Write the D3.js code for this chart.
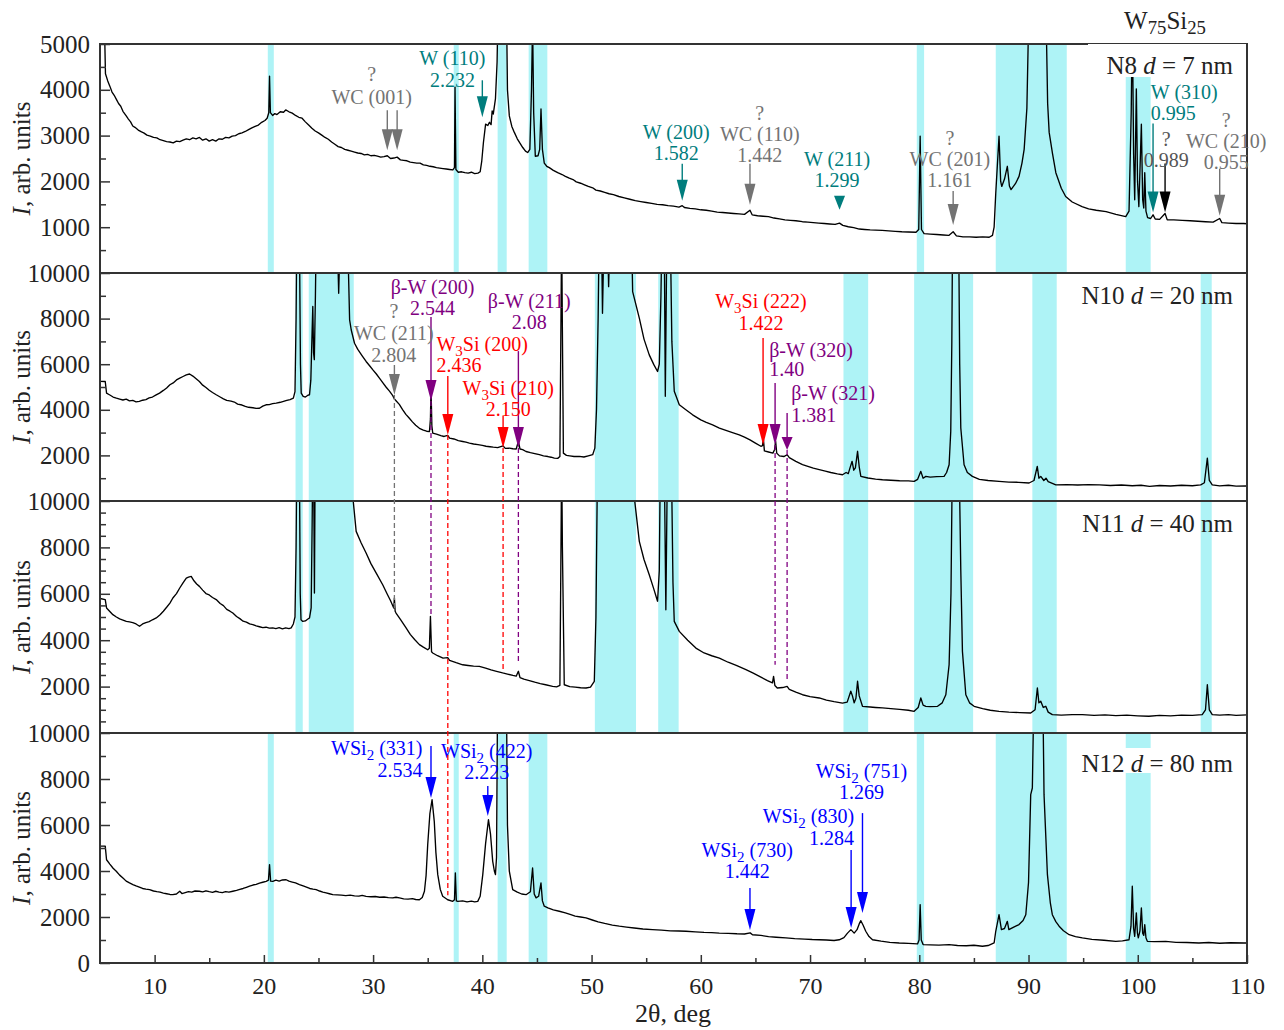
<!DOCTYPE html>
<html>
<head>
<meta charset="utf-8">
<script src="https://cdn.jsdelivr.net/npm/d3@7"></script>
<style>
body { margin: 0; background: #fff; }
svg { font-family: "Liberation Serif", "Times New Roman", serif; }
</style>
</head>
<body>
<svg id="chart" width="1284" height="1030"></svg>
<script>
// 2theta (deg), intensity (arb. units)
var n8 = [[5.0,6000],[5.4,5500],[5.5,4350],[5.7,4200],[5.9,4080],[6.1,3950],[6.3,3880],[6.5,3790],[6.7,3700],[6.9,3640],[7.1,3530],[7.4,3430],[7.6,3360],[7.8,3300],[8.0,3210],[8.2,3180],[8.5,3120],[8.8,3080],[9.0,3060],[9.3,3010],[9.6,2990],[9.9,2960],[10.2,2950],[10.5,2910],[10.8,2890],[11.1,2870],[11.4,2860],[11.7,2840],[12.0,2880],[12.3,2870],[12.6,2900],[12.9,2930],[13.2,2910],[13.5,2950],[13.8,2930],[14.1,2960],[14.4,2900],[14.7,2930],[15.0,2880],[15.3,2910],[15.6,2880],[15.9,2930],[16.2,2920],[16.5,2960],[16.8,2950],[17.1,2990],[17.4,3000],[17.7,3040],[18.0,3060],[18.3,3090],[18.6,3130],[18.9,3170],[19.2,3200],[19.5,3230],[19.8,3290],[20.1,3330],[20.3,3380],[20.45,3500],[20.52,4300],[20.6,3500],[20.8,3440],[21.0,3480],[21.2,3460],[21.5,3520],[21.8,3510],[22.0,3560],[22.3,3520],[22.6,3490],[22.9,3440],[23.2,3400],[23.5,3380],[23.8,3300],[24.1,3230],[24.4,3160],[24.7,3100],[25.0,3060],[25.3,3010],[25.6,2960],[25.9,2920],[26.2,2860],[26.5,2810],[26.8,2760],[27.1,2740],[27.4,2700],[27.7,2680],[28.0,2660],[28.3,2640],[28.6,2620],[28.9,2610],[29.2,2580],[29.5,2590],[29.8,2560],[30.1,2570],[30.4,2550],[30.7,2530],[31.0,2540],[31.3,2560],[31.6,2500],[31.9,2510],[32.2,2530],[32.5,2470],[32.8,2460],[33.1,2450],[33.4,2420],[33.7,2410],[34.0,2400],[34.3,2400],[34.6,2360],[34.9,2350],[35.2,2330],[35.5,2320],[35.8,2300],[36.1,2290],[36.4,2280],[36.7,2270],[37.0,2260],[37.3,2250],[37.45,2300],[37.5,4060],[37.58,2260],[37.8,2200],[38.1,2210],[38.4,2190],[38.7,2180],[39.0,2200],[39.3,2170],[39.6,2180],[39.8,2210],[39.95,2450],[40.1,2850],[40.3,3250],[40.5,3220],[40.65,3290],[40.8,3240],[40.9,3540],[41.0,3470],[41.2,3800],[41.35,4600],[41.45,6000],[42.2,6000],[42.3,4000],[42.47,3430],[42.7,3200],[42.93,3070],[43.2,2930],[43.4,2850],[43.7,2740],[43.95,2660],[44.15,2630],[44.35,2700],[44.5,4000],[44.6,5500],[44.7,3500],[44.85,2550],[45.1,2560],[45.25,2700],[45.37,3580],[45.5,2700],[45.67,2400],[45.9,2330],[46.13,2300],[46.5,2240],[46.9,2190],[47.3,2150],[47.6,2110],[47.96,2070],[48.3,2040],[48.6,1990],[49.0,1960],[49.3,1930],[49.7,1890],[50.1,1860],[50.4,1810],[50.8,1790],[51.2,1760],[51.6,1730],[52.0,1710],[52.5,1670],[53.0,1640],[53.5,1610],[54.0,1580],[54.5,1560],[55.0,1540],[55.5,1520],[56.0,1500],[56.5,1490],[57.0,1470],[57.5,1460],[58.0,1440],[58.3,1470],[58.5,1430],[59.0,1410],[59.5,1400],[60.0,1380],[60.5,1370],[61.0,1350],[61.5,1330],[62.0,1320],[62.5,1310],[63.0,1300],[63.5,1290],[64.0,1280],[64.5,1370],[64.7,1270],[65.2,1250],[65.7,1240],[66.2,1230],[66.7,1200],[67.2,1180],[67.7,1160],[68.2,1150],[68.7,1140],[69.3,1120],[69.8,1110],[70.3,1100],[70.8,1090],[71.3,1080],[71.8,1070],[72.3,1060],[72.7,1090],[73.0,1040],[73.5,1010],[74.0,990],[74.5,960],[75.0,950],[75.5,940],[76.0,935],[76.6,930],[77.2,920],[77.8,910],[78.4,900],[79.0,895],[79.7,890],[79.95,950],[80.08,2990],[80.2,950],[80.44,860],[81.0,850],[81.6,840],[82.2,830],[82.7,820],[83.1,900],[83.4,810],[84.0,790],[84.6,790],[85.2,780],[85.8,790],[86.4,780],[86.7,820],[86.85,1000],[87.0,1740],[87.3,2990],[87.45,2000],[87.55,1890],[87.8,2050],[88.06,2330],[88.25,1900],[88.4,1820],[88.8,1950],[89.13,2110],[89.4,2400],[89.6,2700],[89.85,3600],[90.05,6000],[91.58,6000],[91.75,3700],[91.89,3070],[92.2,2600],[92.5,2190],[93.0,1850],[93.4,1670],[94.0,1550],[94.9,1450],[95.5,1400],[96.2,1370],[97.1,1340],[98.0,1280],[98.9,1230],[99.2,1350],[99.4,3500],[99.5,5600],[99.62,2600],[99.72,1600],[99.87,4020],[99.98,2000],[100.1,1450],[100.33,3250],[100.45,1600],[100.55,1420],[100.64,2190],[100.75,1350],[100.9,1210],[101.18,1190],[101.4,1270],[101.6,1180],[102.0,1170],[102.5,1300],[102.7,1160],[103.3,1160],[104.07,1150],[104.8,1140],[105.5,1130],[106.2,1120],[106.9,1110],[107.5,1190],[107.7,1100],[108.3,1090],[109.0,1080],[109.7,1080],[110,1075]]

var n10 = [[5.0,5250],[5.48,5240],[5.6,4730],[5.9,4650],[6.2,4560],[6.5,4510],[6.8,4470],[7.1,4430],[7.4,4470],[7.7,4390],[8.0,4410],[8.3,4350],[8.6,4370],[8.9,4420],[9.2,4450],[9.5,4520],[9.8,4560],[10.1,4640],[10.45,4730],[10.8,4850],[11.1,4960],[11.4,5100],[11.7,5180],[12.0,5310],[12.3,5390],[12.6,5460],[12.9,5530],[13.2,5570],[13.5,5480],[13.8,5360],[14.1,5240],[14.4,5080],[14.7,4980],[15.0,4860],[15.3,4760],[15.64,4660],[16.0,4560],[16.3,4480],[16.6,4410],[17.0,4380],[17.3,4340],[17.6,4250],[18.0,4210],[18.3,4150],[18.6,4110],[19.0,4090],[19.3,4060],[19.6,4070],[19.9,4160],[20.2,4220],[20.5,4230],[20.8,4270],[21.13,4290],[21.5,4330],[21.8,4370],[22.1,4410],[22.4,4450],[22.7,4510],[22.85,4800],[22.95,8000],[23.02,12000],[23.25,12000],[23.35,6000],[23.42,4730],[23.6,4590],[23.8,4560],[24.0,4630],[24.18,4660],[24.3,5300],[24.42,7500],[24.48,8530],[24.55,6500],[24.62,6200],[24.72,9000],[24.8,12000],[26.7,12000],[26.85,9110],[27.0,12000],[27.65,12000],[27.85,7940],[28.0,7500],[28.3,6920],[28.6,6650],[29.0,6370],[29.36,6120],[29.7,5920],[30.0,5740],[30.3,5570],[30.58,5390],[30.9,5180],[31.2,4990],[31.5,4820],[31.8,4620],[31.95,4480],[32.1,4400],[32.4,4240],[32.7,4010],[33.0,3800],[33.3,3640],[33.6,3470],[33.9,3320],[34.24,3190],[34.6,3110],[34.9,3060],[35.16,3050],[35.25,3600],[35.3,5020],[35.38,3300],[35.46,2980],[35.8,2930],[36.2,2870],[36.5,2830],[36.83,2880],[37.0,2760],[37.4,2720],[37.8,2650],[38.2,2610],[38.5,2580],[38.82,2540],[39.2,2500],[39.6,2470],[40.0,2440],[40.34,2400],[40.7,2380],[41.0,2360],[41.4,2340],[41.9,2420],[42.1,2310],[42.47,2320],[42.8,2290],[43.1,2280],[43.3,2610],[43.45,2280],[43.69,2250],[44.0,2170],[44.4,2120],[44.8,2080],[45.22,2030],[45.6,1980],[46.0,1950],[46.3,1920],[46.59,1880],[46.9,1870],[47.1,1950],[47.2,8000],[47.26,12000],[47.32,8000],[47.42,2100],[47.7,2000],[48.0,1980],[48.4,1950],[48.88,1960],[49.3,1930],[49.7,1980],[50.1,2030],[50.3,2320],[50.45,4000],[50.6,8000],[50.7,12000],[50.9,12000],[51.0,8230],[51.15,12000],[51.45,12000],[51.56,9400],[51.7,12000],[53.65,12000],[53.76,9180],[54.37,8020],[54.8,7100],[55.28,6410],[55.7,5980],[56.04,5680],[56.2,6000],[56.35,9000],[56.45,12000],[56.65,12000],[56.75,4590],[56.9,12000],[57.2,12000],[57.35,7000],[57.57,4810],[58.03,4220],[58.6,4010],[59.25,3780],[60.0,3560],[60.5,3450],[61.08,3340],[61.7,3200],[62.3,3100],[62.9,3000],[63.52,2900],[64.0,2800],[64.5,2680],[65.0,2540],[65.5,2400],[65.65,2430],[65.72,2780],[65.82,2200],[66.2,2150],[66.6,2100],[66.75,2250],[66.85,2620],[66.95,2100],[67.2,1980],[67.6,1950],[67.9,2030],[68.1,1900],[68.7,1740],[69.31,1600],[69.8,1520],[70.3,1440],[70.84,1380],[71.4,1310],[71.9,1250],[72.5,1190],[72.97,1150],[73.3,1250],[73.5,1200],[73.7,1520],[73.85,1740],[74.0,1350],[74.15,1450],[74.35,2180],[74.5,1500],[74.65,1080],[75.3,1010],[76.0,960],[76.63,930],[77.4,910],[78.2,890],[79.0,880],[79.53,860],[79.85,950],[80.14,1300],[80.35,1000],[80.6,1080],[81.0,1050],[81.6,1070],[82.27,1080],[82.5,1250],[82.73,1590],[82.88,3050],[82.98,7000],[83.05,12000],[83.6,12000],[83.7,6000],[83.8,3200],[84.1,1590],[84.4,1250],[84.86,1080],[85.5,950],[86.3,900],[87.3,860],[88.2,830],[89.1,820],[90.05,790],[90.5,900],[90.8,1520],[90.95,1000],[91.12,1080],[91.4,900],[91.6,1000],[91.8,850],[92.5,710],[93.5,720],[94.5,700],[95.5,720],[96.5,710],[97.5,680],[98.5,700],[99.5,670],[100.3,690],[101.08,640],[102.0,680],[103.0,660],[104.0,690],[105.0,670],[105.76,710],[106.1,800],[106.37,1880],[106.55,900],[106.82,710],[107.5,660],[108.3,690],[109.0,650],[110,660]]

var n11 = [[5.0,5800],[5.48,5745],[5.6,5390],[5.9,5240],[6.18,5100],[6.5,5000],[6.8,4920],[7.1,4870],[7.41,4810],[7.7,4790],[8.0,4760],[8.3,4700],[8.62,4600],[8.9,4700],[9.2,4760],[9.5,4800],[9.8,4880],[10.15,4960],[10.5,5100],[10.8,5250],[11.1,5420],[11.4,5600],[11.67,5820],[12.0,6010],[12.3,6250],[12.6,6470],[12.9,6680],[13.1,6720],[13.35,6750],[13.6,6560],[13.85,6420],[14.1,6320],[14.4,6160],[14.7,6010],[15.0,5950],[15.3,5840],[15.64,5750],[16.0,5580],[16.3,5490],[16.6,5330],[16.9,5250],[17.16,5170],[17.5,5020],[17.8,4930],[18.1,4820],[18.4,4780],[18.7,4700],[18.99,4670],[19.3,4620],[19.6,4580],[19.9,4540],[20.2,4560],[20.5,4520],[20.82,4530],[21.1,4500],[21.4,4540],[21.7,4490],[22.0,4530],[22.3,4500],[22.5,4530],[22.7,4700],[22.85,5000],[22.95,8000],[23.02,12000],[23.25,12000],[23.33,6000],[23.4,4880],[23.56,4810],[23.8,4830],[24.0,4900],[24.18,4960],[24.33,5390],[24.42,9000],[24.48,12000],[24.55,12000],[24.63,6030],[24.7,12000],[28.05,12000],[28.14,10200],[28.45,8690],[28.9,8200],[29.36,7760],[29.8,7300],[30.3,6880],[30.88,6390],[31.3,5980],[31.6,5700],[31.89,5390],[31.95,5820],[32.02,5250],[32.1,5170],[32.5,4900],[33.02,4530],[33.4,4250],[33.8,4030],[34.24,3810],[34.6,3700],[35.0,3590],[35.15,3650],[35.25,5030],[35.35,3500],[35.46,3450],[35.9,3330],[36.4,3230],[36.83,3250],[37.0,3130],[37.6,3030],[38.2,2940],[38.7,2910],[39.2,2880],[39.73,2870],[40.3,2800],[40.8,2720],[41.3,2660],[41.86,2590],[42.3,2540],[42.8,2480],[43.1,2450],[43.3,2660],[43.45,2390],[43.8,2320],[44.3,2260],[44.8,2190],[45.3,2130],[45.8,2080],[46.44,2010],[46.8,1990],[47.1,2050],[47.2,8000],[47.26,12000],[47.33,8000],[47.5,2080],[48.0,2000],[48.5,1980],[49.0,1950],[49.49,1940],[49.9,1980],[50.25,2230],[50.4,5000],[50.55,12000],[53.85,12000],[53.95,10000],[54.37,8260],[54.8,7480],[55.28,6820],[55.7,6200],[56.04,5680],[56.2,7000],[56.3,12000],[56.65,12000],[56.8,5310],[56.95,12000],[57.3,12000],[57.45,6500],[57.57,4810],[58.03,4380],[58.8,4000],[59.55,3660],[60.3,3450],[61.0,3330],[61.7,3230],[62.5,3050],[63.3,2900],[64.13,2730],[64.8,2580],[65.5,2410],[66.1,2260],[66.56,2160],[66.66,2440],[66.78,2050],[67.0,1940],[67.5,1960],[67.9,2010],[68.1,1880],[68.7,1760],[69.31,1650],[70.0,1570],[70.84,1510],[71.5,1420],[72.2,1350],[72.97,1290],[73.4,1330],[73.73,1800],[73.88,1600],[74.04,1300],[74.2,1500],[74.35,2230],[74.5,1600],[74.8,1150],[75.5,1120],[76.0,1100],[76.63,1080],[77.4,1050],[78.2,1020],[79.0,980],[79.53,935],[79.9,1100],[80.14,1510],[80.35,1200],[80.6,1150],[81.0,1140],[81.67,1150],[82.1,1300],[82.43,1650],[82.73,2940],[82.9,6000],[83.03,12000],[83.64,12000],[83.8,7000],[83.95,3520],[84.26,1650],[84.6,1300],[85.02,1150],[85.8,1050],[86.5,980],[87.3,935],[88.2,900],[89.2,880],[90.2,860],[90.6,1000],[90.81,1940],[90.95,1300],[91.12,1370],[91.35,1100],[91.58,1150],[91.8,900],[92.18,790],[93.0,770],[94.0,790],[94.93,790],[96.0,760],[97.0,780],[98.0,750],[99.0,770],[100.0,740],[101.02,720],[102.0,760],[103.0,740],[104.0,770],[105.0,760],[105.9,790],[106.2,1000],[106.37,2080],[106.55,1000],[106.82,790],[107.5,770],[108.3,790],[109.0,760],[110,780]]

var n12 = [[5.0,5080],[5.48,5080],[5.6,4490],[5.9,4300],[6.2,4120],[6.49,3990],[6.8,3820],[7.1,3700],[7.4,3560],[7.7,3480],[8.01,3410],[8.3,3350],[8.6,3300],[8.9,3240],[9.2,3210],[9.54,3190],[9.9,3130],[10.2,3100],[10.5,3080],[10.8,3040],[11.1,3010],[11.4,2980],[11.67,2970],[12.0,3000],[12.3,3120],[12.5,3020],[12.8,3060],[13.1,3100],[13.4,3080],[13.7,3130],[14.1,3120],[14.4,3090],[14.7,3140],[15.0,3100],[15.3,3070],[15.6,3120],[15.9,3080],[16.2,3060],[16.5,3100],[16.8,3080],[17.16,3120],[17.5,3160],[17.8,3200],[18.1,3240],[18.4,3290],[18.69,3340],[19.0,3390],[19.3,3420],[19.6,3470],[19.9,3510],[20.21,3550],[20.42,3600],[20.52,4280],[20.62,3560],[20.82,3550],[21.1,3600],[21.4,3560],[21.7,3610],[22.04,3620],[22.3,3560],[22.6,3520],[22.9,3480],[23.26,3410],[23.6,3350],[23.9,3300],[24.2,3240],[24.5,3210],[24.79,3190],[25.1,3130],[25.4,3080],[25.7,3050],[26.0,3010],[26.31,2970],[26.7,2960],[27.1,2950],[27.5,2930],[27.9,2950],[28.3,2920],[28.7,2910],[29.0,2940],[29.36,2900],[29.8,2880],[30.2,2890],[30.6,2860],[31.0,2870],[31.4,2840],[31.8,2830],[32.1,2860],[32.41,2830],[32.8,2790],[33.2,2780],[33.6,2800],[33.9,2760],[34.24,2750],[34.5,2850],[34.7,3120],[34.85,3800],[35.0,5150],[35.2,6500],[35.4,7100],[35.6,6160],[35.75,4800],[35.92,3840],[36.15,3200],[36.37,2900],[36.83,2750],[37.29,2680],[37.45,2750],[37.53,3920],[37.62,2700],[37.75,2680],[38.2,2700],[38.6,2660],[39.0,2690],[39.3,2660],[39.58,2680],[39.8,2900],[40.04,3840],[40.3,5200],[40.56,6230],[40.75,5600],[40.95,4420],[41.1,4000],[41.2,3840],[41.3,4600],[41.4,12000],[42.2,12000],[42.3,6000],[42.47,3990],[42.78,3190],[43.2,3080],[43.6,3000],[44.0,2970],[44.4,3100],[44.6,4130],[44.75,3000],[44.92,2830],[45.15,2900],[45.37,3480],[45.5,2700],[45.67,2470],[46.0,2400],[46.5,2310],[47.04,2250],[47.6,2180],[48.1,2100],[48.5,2040],[49.0,2000],[49.49,1960],[50.0,1880],[50.6,1790],[51.2,1720],[51.9,1650],[52.54,1600],[53.2,1560],[53.9,1520],[54.7,1480],[55.58,1450],[56.4,1430],[57.2,1400],[58.0,1390],[58.64,1380],[59.5,1350],[60.3,1330],[61.0,1320],[61.69,1300],[62.5,1290],[63.3,1270],[64.0,1260],[64.52,1310],[64.73,1230],[65.5,1200],[66.2,1150],[66.9,1120],[67.79,1090],[68.6,1060],[69.5,1040],[70.2,1020],[70.84,1010],[71.5,1000],[72.2,980],[72.67,1010],[73.1,1100],[73.43,1300],[73.74,1450],[74.04,1300],[74.3,1450],[74.5,1700],[74.65,1840],[74.85,1650],[75.1,1380],[75.4,1150],[75.72,1010],[76.5,950],[77.3,900],[78.16,870],[79.0,850],[79.84,830],[79.98,1000],[80.08,2540],[80.18,1000],[80.35,800],[81.0,790],[81.8,780],[82.73,800],[83.5,760],[84.3,750],[85.0,770],[85.78,730],[86.3,760],[86.85,870],[87.0,1380],[87.3,2100],[87.52,1450],[87.8,1500],[88.06,1810],[88.2,1450],[88.6,1550],[89.13,1670],[89.5,1850],[89.75,2100],[90.0,3500],[90.2,7320],[90.35,7610],[90.5,12000],[91.3,12000],[91.42,7320],[91.73,3840],[92.0,2600],[92.18,2100],[92.5,1800],[92.8,1600],[93.2,1400],[93.72,1230],[94.3,1150],[94.93,1090],[95.8,1030],[96.9,990],[97.99,940],[98.6,960],[99.2,1010],[99.38,1600],[99.5,3340],[99.62,1500],[99.72,1160],[99.87,2180],[99.97,1300],[100.05,1090],[100.2,1400],[100.33,2390],[100.45,1300],[100.55,1200],[100.64,1670],[100.75,1100],[100.88,940],[101.5,930],[102.56,940],[103.5,900],[104.5,890],[105.6,870],[106.5,890],[107.5,860],[108.5,880],[109.7,870],[110,870]]

// shaded 2theta ranges
var bandsA = [[20.36,20.91],[37.38,37.84],[41.4,42.23],[44.24,45.95],[79.77,80.44],[87.0,93.5],[98.9,101.18]]
var bandsB = [[22.9,23.56],[24.11,28.23],[50.3,54.07],[56.1,57.97],[73.06,75.32],[79.53,84.93],[90.35,92.58],[105.76,106.77]]

var sampleNames = ['N8', 'N10', 'N11', 'N12']
var thickness = ['7', '20', '40', '80']
var xTicks = [10, 20, 30, 40, 50, 60, 70, 80, 90, 100, 110]

// arrows: 2theta, tip intensity
var arrowsN8 = [
  {t:31.3, v:2680, len:40, c:'gray'}, {t:32.2, v:2680, len:40, c:'gray'},
  {t:40.0, v:3400, len:37, c:'teal'}, {t:58.3, v:1580, len:37, c:'teal'},
  {t:64.5, v:1490, len:41, c:'gray'}, {t:72.7, v:1380, len:14, c:'teal', head:14},
  {t:83.1, v:1050, len:34, c:'gray'}, {t:101.4, v:1320, len:89, c:'teal'},
  {t:102.5, v:1320, len:49, c:'black'}, {t:107.5, v:1250, len:47, c:'gray'}
]
var arrowsN10 = [
  {t:31.95, v:4650, len:30, c:'gray', to:2, end:5390},
  {t:35.3, v:4390, len:84, c:'purple', to:2, end:5100},
  {t:36.84, v:2890, len:59, c:'red', to:3, end:2950},
  {t:41.9, v:2320, len:32, c:'red', to:2, end:2660},
  {t:43.3, v:2320, len:97, c:'purple', to:2, end:3017},
  {t:65.7, v:2460, len:107, c:'red'},
  {t:66.8, v:2460, len:62, c:'purple', to:2, end:2940},
  {t:67.9, v:2240, len:37, c:'purple', head:13, to:2, end:2300}
]
var arrowsN12 = [
  {t:35.3, v:7170, len:52, c:'blue'}, {t:40.5, v:6390, len:30, c:'blue'},
  {t:64.5, v:1440, len:42, c:'blue'}, {t:73.76, v:1520, len:78, c:'blue'},
  {t:74.8, v:2170, len:100, c:'blue'}
]

var labelsN8 = [
  {t:29.87, y:30, gap:23, c:'gray', lines:['?', 'WC (001)']},
  {t:37.26, y:14, gap:22, c:'teal', lines:['W (110)', '2.232']},
  {t:57.75, y:88, gap:21, c:'teal', lines:['W (200)', '1.582']},
  {t:65.4, y:69, gap:21, c:'gray', lines:['?', 'WC (110)', '1.442']},
  {t:72.47, y:115, gap:21, c:'teal', lines:['W (211)', '1.299']},
  {t:82.8, y:94, gap:21, c:'gray', lines:['?', 'WC (201)', '1.161']},
  {t:101.2, y:48, gap:21, c:'teal', anchor:'start', lines:['W (310)', '0.995']},
  {t:102.6, y:95, gap:21, c:'dark', lines:['?', '0.989']},
  {t:108.1, y:76, gap:21, c:'gray', lines:['?', 'WC (210)', '0.955']}
]
var labelsN10 = [
  {t:31.9, y:38, gap:22, c:'gray', lines:['?', 'WC (211)', '2.804']},
  {t:35.44, y:14, gap:21, c:'purple', lines:['β-W (200)', '2.544']},
  {t:35.8, y:71, gap:21, c:'red', anchor:'start', lines:['W{3}Si (200)', '2.436']},
  {t:42.37, y:115, gap:21, c:'red', lines:['W{3}Si (210)', '2.150']},
  {t:44.3, y:28, gap:21, c:'purple', lines:['β-W (211)', '2.08']},
  {t:65.5, y:28, gap:22, c:'red', lines:['W{3}Si (222)', '1.422']},
  {t:66.26, y:77, gap:19, c:'purple', anchor:'start', lines:['β-W (320)', '1.40']},
  {t:68.27, y:120, gap:22, c:'purple', anchor:'start', lines:['β-W (321)', '1.381']}
]
var labelsN12 = [
  {t:34.52, y:15, gap:22, c:'blue', anchor:'end', lines:['WSi{2} (331)', '2.534']},
  {t:40.4, y:18, gap:21, c:'blue', lines:['WSi{2} (422)', '2.223']},
  {t:64.24, y:117, gap:21, c:'blue', lines:['WSi{2} (730)', '1.442']},
  {t:74.03, y:83, gap:22, c:'blue', anchor:'end', lines:['WSi{2} (830)', '1.284']},
  {t:74.7, y:38, gap:21, c:'blue', lines:['WSi{2} (751)', '1.269']}
]

var colors = { gray:'#737373', teal:'#007d7d', purple:'#800080', red:'#ff0000', blue:'#0000ff', black:'#000000', dark:'#555555' }

var svg = d3.select('#chart')
var edges = [44, 273, 501, 733, 963]
var left = 100, right = 1247

var x = d3.scaleLinear().domain([5, 110]).range([left, right])

var panels = [
  {data:n8, max:5000, major:[1000,2000,3000,4000,5000], minor:500, bands:bandsA, arrows:arrowsN8, labels:labelsN8, box:[1088, 44, 158, 33]},
  {data:n10, max:10000, major:[2000,4000,6000,8000,10000], minor:1000, bands:bandsB, arrows:arrowsN10, labels:labelsN10},
  {data:n11, max:10000, major:[2000,4000,6000,8000,10000], minor:500, bands:bandsB, arrows:[], labels:[]},
  {data:n12, max:10000, major:[0,2000,4000,6000,8000,10000], minor:1000, bands:bandsA, arrows:arrowsN12, labels:labelsN12, box:[1068, 748, 170, 25]}
]

panels.forEach(function(p, i){
  p.top = edges[i]
  p.bottom = edges[i+1]
  p.y = d3.scaleLinear().domain([0, p.max]).range([p.bottom, p.top])
})

// writes "W{3}Si" style strings with subscripts
function richText(sel, str){
  var parts = str.split(/(\{[^}]*\})/)
  var down = false
  parts.forEach(function(part){
    if (!part) return
    if (part[0] == '{') {
      sel.append('tspan').attr('dy', 5).attr('font-size', '0.75em').text(part.slice(1, -1))
      down = true
    } else {
      var ts = sel.append('tspan').text(part)
      if (down) { ts.attr('dy', -5); down = false }
    }
  })
}

panels.forEach(function(p, i){

  var g = svg.append('g')

  var clipId = 'clip' + i
  svg.append('clipPath').attr('id', clipId)
    .append('rect')
    .attr('x', left).attr('y', p.top)
    .attr('width', right - left).attr('height', p.bottom - p.top)

  var inner = g.append('g').attr('clip-path', 'url(#' + clipId + ')')

  inner.selectAll('.band')
    .data(p.bands)
    .enter().append('rect')
    .attr('x', function(d){ return x(d[0]) })
    .attr('width', function(d){ return x(d[1]) - x(d[0]) })
    .attr('y', p.top)
    .attr('height', p.bottom - p.top)
    .attr('fill', '#aef3f6')

  var line = d3.line()
    .x(function(d){ return x(d[0]) })
    .y(function(d){ return p.y(d[1]) })

  inner.append('path')
    .datum(p.data)
    .attr('d', line)
    .attr('fill', 'none')
    .attr('stroke', '#000')
    .attr('stroke-width', 1.35)
    .attr('stroke-linejoin', 'round')

  // y ticks (inside the frame)
  var minorVals = d3.range(0, p.max, p.minor).filter(function(v){ return p.major.indexOf(v) < 0 && v > 0 })

  var yAxis = d3.axisLeft(p.y).tickValues(p.major).tickSize(-10).tickPadding(10).tickFormat(d3.format('d'))
  var ya = g.append('g').attr('transform', 'translate(' + left + ',0)').call(yAxis)
  ya.select('.domain').remove()
  ya.selectAll('line').attr('stroke', '#333').attr('stroke-width', 1.5)
  ya.selectAll('text').attr('font-size', 25).attr('fill', '#222')
    .attr('font-family', '"Liberation Serif", "Times New Roman", serif')

  var yMinor = d3.axisLeft(p.y).tickValues(minorVals).tickSize(-6).tickFormat('')
  var ym = g.append('g').attr('transform', 'translate(' + left + ',0)').call(yMinor)
  ym.select('.domain').remove()
  ym.selectAll('line').attr('stroke', '#333').attr('stroke-width', 1.5)

  // y title
  var title = g.append('text')
    .attr('transform', 'translate(30,' + ((p.top + p.bottom) / 2) + ') rotate(-90)')
    .attr('text-anchor', 'middle')
    .attr('font-size', 25)
    .attr('fill', '#222')
  title.append('tspan').attr('font-style', 'italic').text('I')
  title.append('tspan').text(', arb. units')

  // frame
  g.append('rect')
    .attr('x', left).attr('y', p.top)
    .attr('width', right - left).attr('height', p.bottom - p.top)
    .attr('fill', 'none')
    .attr('stroke', '#333')
    .attr('stroke-width', 2)

  // arrows
  p.arrows.forEach(function(a){
    var ax = x(a.t)
    var tip = p.y(a.v)
    var head = a.head || 21
    var col = colors[a.c]
    if (a.len > head) {
      g.append('line')
        .attr('x1', ax).attr('x2', ax)
        .attr('y1', tip - a.len).attr('y2', tip - head + 1)
        .attr('stroke', col).attr('stroke-width', 1.4)
    }
    g.append('path')
      .attr('d', 'M' + (ax - 5.5) + ',' + (tip - head) + 'L' + (ax + 5.5) + ',' + (tip - head) + 'L' + ax + ',' + tip + 'Z')
      .attr('fill', col)
  })

  // annotation text
  p.labels.forEach(function(l){
    l.lines.forEach(function(s, k){
      var t = g.append('text')
        .attr('x', x(l.t))
        .attr('y', p.top + l.y + k * l.gap + 7)
        .attr('text-anchor', l.anchor || 'middle')
        .attr('font-size', 20)
        .attr('fill', colors[l.c])
      richText(t, s)
    })
  })

  // sample label
  if (p.box) {
    g.append('rect')
      .attr('x', p.box[0]).attr('y', p.box[1])
      .attr('width', p.box[2]).attr('height', p.box[3])
      .attr('fill', '#fff')
  }
  var lab = g.append('text')
    .attr('x', 1233)
    .attr('y', p.top + (i == 0 ? 21 : i == 3 ? 30 : 22) + 9)
    .attr('text-anchor', 'end')
    .attr('font-size', 25)
    .attr('fill', '#222')
  lab.append('tspan').text(sampleNames[i] + ' ')
  lab.append('tspan').attr('font-style', 'italic').text('d')
  lab.append('tspan').text(' = ' + thickness[i] + ' nm')
})

// dashed guides from panel N10 arrows to lower scans
panels[1].arrows.forEach(function(a){
  if (a.to == null) return
  svg.append('line')
    .attr('x1', x(a.t)).attr('x2', x(a.t))
    .attr('y1', panels[1].y(a.v))
    .attr('y2', panels[a.to].y(a.end))
    .attr('stroke', colors[a.c])
    .attr('stroke-width', 1.3)
    .attr('stroke-dasharray', '5,3')
})

// x axis at the bottom
var bottom = panels[3].bottom
var xAxis = d3.axisBottom(x).tickValues(xTicks).tickSize(-8).tickPadding(14)
var xa = svg.append('g').attr('transform', 'translate(0,' + bottom + ')').call(xAxis)
xa.select('.domain').remove()
xa.selectAll('line').attr('stroke', '#333').attr('stroke-width', 1.5)
xa.selectAll('text').attr('font-size', 24).attr('fill', '#222')
  .attr('font-family', '"Liberation Serif", "Times New Roman", serif')

var xMinor = d3.axisBottom(x).tickValues(xTicks.map(function(v){ return v - 5 }).filter(function(v){ return v > 5 })).tickSize(-5).tickFormat('')
var xm = svg.append('g').attr('transform', 'translate(0,' + bottom + ')').call(xMinor)
xm.select('.domain').remove()
xm.selectAll('line').attr('stroke', '#333').attr('stroke-width', 1.5)

svg.append('text')
  .attr('x', 673).attr('y', 1022)
  .attr('text-anchor', 'middle')
  .attr('font-size', 26)
  .attr('fill', '#222')
  .text('2θ, deg')

var head = svg.append('text')
  .attr('x', 1165).attr('y', 29)
  .attr('text-anchor', 'middle')
  .attr('font-size', 25)
  .attr('fill', '#222')
richText(head, 'W{75}Si{25}')
</script>
</body>
</html>
